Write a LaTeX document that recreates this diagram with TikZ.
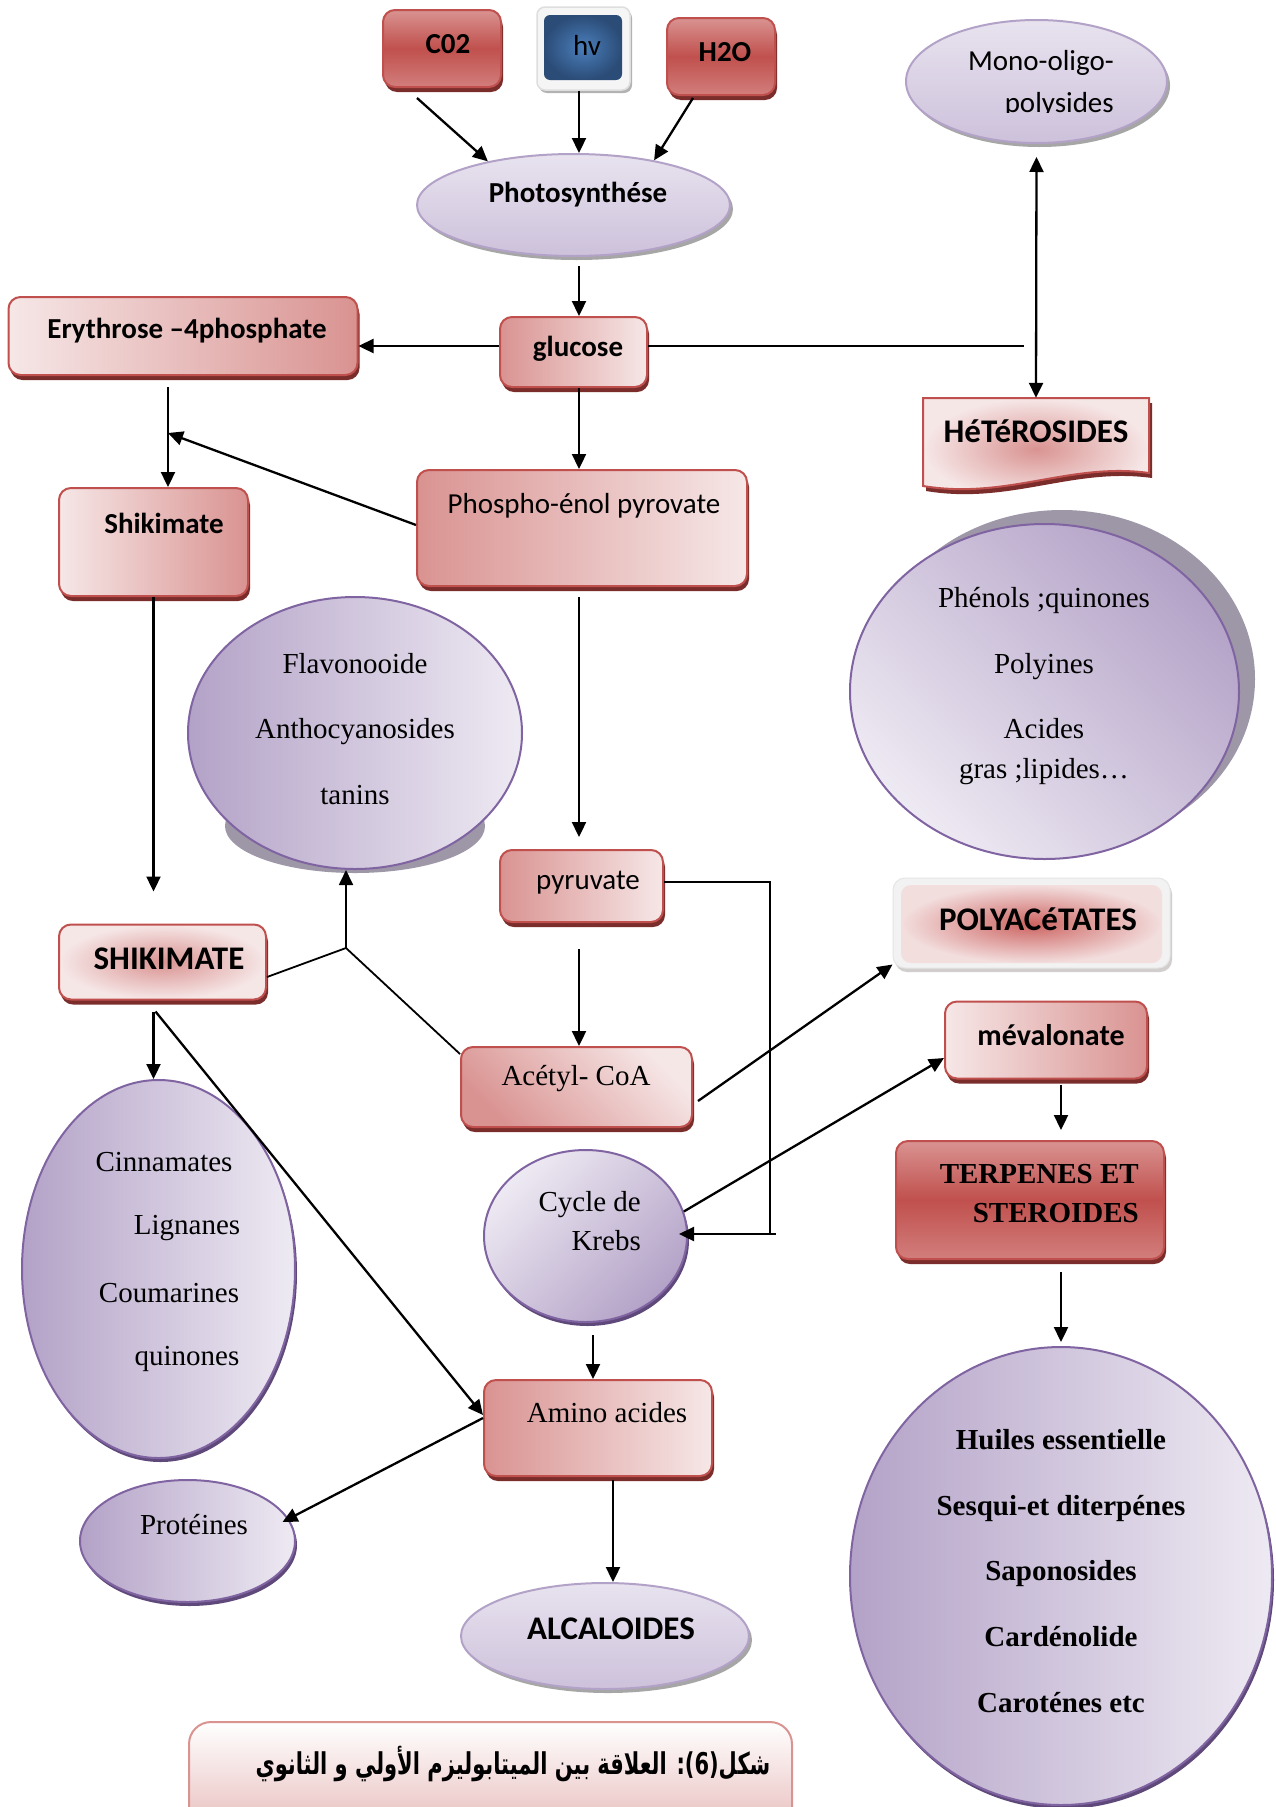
\documentclass[tikz,border=0pt]{standalone}
\usepackage{fontspec}
\setmainfont{Liberation Serif}
\newfontfamily\calib{Carlito}
\newfontfamily\arabicfont[Script=Arabic]{DejaVu Sans}
\TeXXeTstate=1
\usetikzlibrary{shapes.geometric,shadows,arrows.meta,calc}
\definecolor{rborder}{HTML}{C0504D}
\definecolor{rshadow}{HTML}{7A2D2B}
\definecolor{rlight}{HTML}{F6E7E7}
\definecolor{rdark}{HTML}{D99391}
\definecolor{rmid}{HTML}{C0504D}
\definecolor{rbot}{HTML}{D27E7C}
\definecolor{pborder}{HTML}{8064A2}
\definecolor{pdark}{HTML}{B3A2C7}
\definecolor{plight}{HTML}{EEEAF3}
\definecolor{pshadow}{HTML}{5F497A}
\definecolor{gshadow}{HTML}{9D97A7}
\definecolor{lavtop}{HTML}{E8E3EF}
\definecolor{lavbot}{HTML}{CDC1DB}
\definecolor{lavborder}{HTML}{B3A2C7}
\definecolor{greysh}{HTML}{A6A6A6}
\definecolor{hvin}{HTML}{4A7EBB}
\definecolor{hvout}{HTML}{2B4C77}
\definecolor{polyin}{HTML}{CC6461}
\definecolor{polyout}{HTML}{F3DEDE}
\definecolor{capbot}{HTML}{E6B8B7}
\tikzset{
  rbox/.style={rectangle, rounded corners=12pt, draw=rborder, line width=2pt, inner sep=0pt,
    drop shadow={shadow xshift=2pt, shadow yshift=-5pt, fill=rshadow, opacity=1}},
  vgradR/.style={top color=rdark, bottom color=rbot, middle color=rmid},
  pell/.style={ellipse, draw=pborder, line width=2pt, inner sep=0pt,
    drop shadow={shadow xshift=2pt, shadow yshift=-4pt, fill=pshadow, opacity=1}},
  lavell/.style={ellipse, draw=lavborder, line width=2pt, inner sep=0pt, top color=lavtop, bottom color=lavbot,
    drop shadow={shadow xshift=3pt, shadow yshift=-4pt, fill=greysh, opacity=1}},
  hvframe/.style={rectangle, rounded corners=8pt, fill=black!4, draw=black!13, line width=1.5pt, inner sep=0pt,
    drop shadow={shadow xshift=2pt, shadow yshift=-3pt, fill=black!30, opacity=1}},
  polyframe/.style={rectangle, rounded corners=12pt, fill=black!5, draw=black!10, line width=1pt, inner sep=0pt,
    drop shadow={shadow xshift=2pt, shadow yshift=-4pt, fill=polyout!60!black!40, opacity=1}},
  arr/.style={line width=2.3pt, -{Triangle[length=15pt,width=14pt]}},
  darr/.style={line width=2.3pt, {Triangle[length=15pt,width=14pt]}-{Triangle[length=15pt,width=14pt]}},
  ln/.style={line width=1.8pt},
  bsans/.style={font=\calib\fontsize{29}{35}\selectfont\bfseries, inner sep=0pt},
  bcaps/.style={font=\calib\fontsize{33}{38}\selectfont\bfseries, inner sep=0pt},
  sans/.style={font=\calib\fontsize{29}{35}\selectfont, inner sep=0pt},
  serif/.style={font=\fontsize{29}{35}\selectfont, inner sep=0pt},
  bserif/.style={font=\fontsize{29}{35}\selectfont\bfseries, inner sep=0pt}
}
\begin{document}
\begin{tikzpicture}[x=1pt,y=-1pt]
\useasboundingbox (0,0) rectangle (1275,1807);
\fill[white] (0,0) rectangle (1275,1807);
\coordinate (vax) at (579,0);

% grey shadows of two big ellipses
\node[ellipse, fill=gshadow, minimum width=260pt, minimum height=94pt, inner sep=0pt] (flavsh) at (355,826) {};
\node[ellipse, fill=gshadow, minimum width=386pt, minimum height=338pt, inner sep=0pt] (phensh) at (1062,679) {};

% shapes
\node[rbox, vgradR, minimum width=118pt, minimum height=77pt] (co2) at (442,48.5) {};
\node[hvframe, minimum width=93pt, minimum height=83pt] (hvf) at (583.5,48.5) {};
\node[rectangle, rounded corners=6pt, inner color=hvin, outer color=hvout, inner sep=0pt, minimum width=78pt, minimum height=65pt] (hv) at (583,47.5) {};
\node[rbox, vgradR, minimum width=108pt, minimum height=77pt] (h2o) at (721,56.5) {};
\node[lavell, minimum width=313pt, minimum height=102pt] (photo) at (573.5,205) {};
\node[lavell, minimum width=261pt, minimum height=123pt] (mono) at (1036.5,81.5) {};
\node[rbox, left color=rdark, right color=rlight, minimum width=147pt, minimum height=70pt] (glu) at (573.5,352) {};
\node[rbox, left color=rlight, right color=rdark, minimum width=349pt, minimum height=78pt] (ery) at (183,336) {};
\node[inner sep=0pt, minimum width=226pt, minimum height=88pt] (het) at (1036,442) {};
\fill[rshadow] (926,403) -- (1152,403) -- (1152,478) .. controls (1073,467) and (1010,505) .. (926,491) -- cycle;
\path[draw=rborder, line width=2pt, inner color=rdark, outer color=rlight] (923,398) -- (1149,398) -- (1149,473) .. controls (1070,462) and (1007,500) .. (923,486) -- cycle;
\node[rbox, left color=rlight, right color=rdark, minimum width=189pt, minimum height=108pt] (shk) at (153.5,542) {};
\node[rbox, left color=rdark, right color=rlight, minimum width=330pt, minimum height=116pt] (pep) at (582,528) {};
\node[ellipse, draw=pborder, line width=2pt, inner sep=0pt, left color=pdark, right color=plight, minimum width=334pt, minimum height=272pt] (flav) at (355,733) {};
\node[ellipse, draw=pborder, line width=2pt, inner sep=0pt, top color=pdark, bottom color=plight, shading angle=-45, minimum width=389pt, minimum height=335pt] (phen) at (1044.5,691.5) {};
\node[rbox, left color=rdark, right color=rlight, minimum width=163pt, minimum height=72pt] (pyr) at (581.5,886) {};
\node[polyframe, minimum width=277pt, minimum height=90pt] (poly) at (1031.5,923) {};
\node[rectangle, rounded corners=10pt, inner color=polyin, outer color=polyout, inner sep=0pt, minimum width=261pt, minimum height=78pt] (polyi) at (1031.5,924) {};
\node[rbox, left color=rlight, right color=rdark, minimum width=202pt, minimum height=77pt] (meva) at (1046,1040) {};
\node[rbox, vgradR, minimum width=268pt, minimum height=118pt] (terp) at (1030,1200) {};
\node[rbox, inner color=rdark, outer color=rlight, minimum width=207pt, minimum height=75pt] (shk2) at (162.5,962) {};
\node[rbox, top color=rlight, bottom color=rdark, shading angle=-45, minimum width=231pt, minimum height=80pt] (acet) at (576.5,1087) {};
\node[pell, top color=plight, bottom color=pdark, shading angle=45, minimum width=203pt, minimum height=172pt] (krebs) at (585.5,1236) {};
\node[pell, left color=pdark, right color=plight, minimum width=273pt, minimum height=378pt] (cinn) at (158.5,1269) {};
\node[rbox, left color=rdark, right color=rlight, minimum width=228pt, minimum height=96pt] (amino) at (598,1428) {};
\node[pell, left color=pdark, right color=plight, minimum width=215pt, minimum height=122pt] (prot) at (187.5,1541) {};
\node[lavell, minimum width=288pt, minimum height=106pt] (alc) at (605,1636) {};
\node[pell, left color=pdark, right color=plight, minimum width=422pt, minimum height=458pt] (huil) at (1061,1576) {};
\node[rectangle, rounded corners=22pt, draw=rdark, line width=2pt, top color=white, bottom color=capbot, minimum width=603pt, minimum height=118pt, inner sep=0pt] (cap) at (490.5,1781) {};

% connectors
\draw[arr] ([xshift=-25pt,yshift=-10pt]co2.south) -- (photo.153);
\draw[arr] (hvf.south -| vax) -- (photo.north -| vax);
\draw[arr] ([xshift=-28pt,yshift=-2pt]h2o.south) -- (photo.29);
\draw[arr] ($(photo.south -| vax)+(0,9)$) -- (glu.north -| vax);
\coordinate (gw) at ($(glu.west)+(0,-6)$);
\coordinate (ge) at ($(glu.east)+(0,-6)$);
\coordinate (gend) at (1024,346);
\draw[arr] (gw) -- (gw -| ery.east);
\draw[line width=2.3pt] (ge) -- (gend);
\draw[arr] (glu.south -| vax) -- (pep.north -| vax);
\draw[darr] ($(mono.south)+(0,13)$) -- (het.north);
\coordinate (eshk) at (168,433);
\draw[arr] ($(ery.south -| eshk)+(0,11)$) -- (shk.north -| eshk);
\draw[arr] ($(pep.west)+(0,-3)$) -- (eshk);
\draw[arr] (shk.south) -- ($(shk2.north -| shk.south)+(0,-32)$);
\coordinate (jn) at (346,948);
\draw[ln] ($(shk2.east)+(0,15)$) -- (jn) -- ($(acet.north west)+(0,8)$);
\draw[arr, line width=1.8pt] (jn) -- (jn |- flav.south);
\draw[arr] ($(pep.south -| vax)+(0,10)$) -- ($(pyr.north -| vax)+(0,-12)$);
\draw[arr] ($(pyr.south -| vax)+(0,26)$) -- (acet.north -| vax);
\coordinate (pk1) at (770,882);
\coordinate (pk2) at (776,1234);
\draw[ln] ($(pyr.east)+(0,-4)$) -- (pk1) -- (pk1 |- pk2);
\draw[arr] (pk2) -- ($(krebs.east)+(-9,-2)$);
\draw[arr] ($(acet.east)+(5,14)$) -- ($(poly.south west)+(0,-4)$);
\draw[arr] (krebs.14) -- ($(meva.west)+(0,18)$);
\draw[arr] ($(meva.south -| huil)+(0,5)$) -- ($(terp.north -| huil)+(0,-10)$);
\draw[arr] ($(terp.south -| huil)+(0,12)$) -- ($(huil.north)+(0,-4)$);
\draw[arr] ($(shk2.south)+(-9,11)$) -- ($(cinn.north)+(-5,0)$);
\draw[arr] ($(shk2.south)+(-7,11)$) -- ($(amino.west)+(0,-13)$);
\draw[arr] ($(krebs.south)+(7.5,12)$) -- ($(krebs.south |- amino.north)+(7.5,0)$);
\draw[arr] ($(amino.west)+(0,-10)$) -- ($(prot.center)+(95,-19)$);
\draw[arr] ($(amino.south)+(15,3)$) -- ($(amino.south |- alc.north)+(15,0)$);

% texts
\node[bsans] (co2t) at (448,44) {C02};
\node[sans] (hvt) at (587,45) {hv};
\node[bsans] (h2ot) at (725,52) {H2O};
\node[bsans] (photot) at (578,195) {Photosynthése};
\begin{scope}
\clip (890,0) rectangle (1200,112);
\node[sans, font=\calib\fontsize{29}{42}\selectfont, align=right, anchor=east] (monot) at (1114,84) {Mono-oligo-\\polysides};
\end{scope}
\node[bsans] (glut) at (578,349) {glucose};
\node[bsans] (eryt) at (187,331) {Erythrose –4phosphate};
\node[bcaps] (hett) at (1036,431) {HéTéROSIDES};
\node[bsans] (shkt) at (164,523) {Shikimate};
\node[sans] (pept) at (584,506) {Phospho-énol pyrovate};
\node[serif, font=\fontsize{29}{65.5}\selectfont, align=center] (flavt) at (355,729) {Flavonooide\\Anthocyanosides\\tanins};
\node[serif, font=\fontsize{29}{40}\selectfont, align=center] (phent) at (1044,686) {Phénols ;quinones\\[26pt]Polyines\\[25pt]Acides\\gras ;lipides…};
\node[sans] (pyrt) at (588,883) {pyruvate};
\node[bcaps] (polyt) at (1038,919) {POLYACéTATES};
\node[bsans, font=\calib\fontsize{30}{36}\selectfont\bfseries] (mevat) at (1051,1035) {mévalonate};
\node[bserif, font=\fontsize{29}{39}\selectfont\bfseries, align=right, anchor=east] (terpt) at (1139,1194) {TERPENES ET\\STEROIDES};
\node[bcaps] (shk2t) at (169,959) {SHIKIMATE};
\node[serif] (acett) at (576,1079) {Acétyl- CoA};
\node[serif, font=\fontsize{29}{39}\selectfont, align=right, anchor=east] (krebst) at (641,1221) {Cycle de\\Krebs};
\node[serif] (cinn1) at (164,1162) {Cinnamates};
\node[serif] (cinn2) at (187,1228) {Lignanes};
\node[serif] (cinn3) at (169,1293) {Coumarines};
\node[serif] (cinn4) at (187,1359) {quinones};
\node[serif] (aminot) at (607,1413) {Amino acides};
\node[serif] (prott) at (194,1525) {Protéines};
\node[bcaps] (alct) at (611,1629) {ALCALOIDES};
\node[bserif, font=\fontsize{29}{65.75}\selectfont\bfseries, align=center] (huilt) at (1061,1571) {Huiles essentielle\\Sesqui-et diterpénes\\Saponosides\\Cardénolide\\Caroténes etc};
\node[font=\arabicfont\fontsize{30}{36}\selectfont\bfseries, inner sep=0pt] (capt) at (513,1764) {\scalebox{0.7}[1]{\beginR شكل(6): العلاقة بين الميتابوليزم الأولي و الثانوي\endR}};
\end{tikzpicture}
\end{document}
